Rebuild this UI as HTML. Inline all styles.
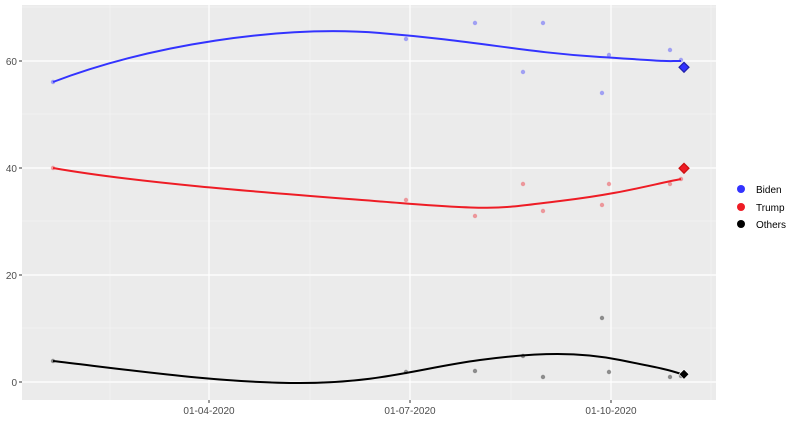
<!DOCTYPE html><html><head><style>body{margin:0;background:#fff}svg text{font-family:"Liberation Sans",sans-serif}</style></head><body>
<svg width="800" height="422" xmlns="http://www.w3.org/2000/svg">
<rect x="22" y="5" width="694" height="395" fill="#ebebeb"/>
<g stroke="#f5f5f5" stroke-width="0.6">
<line x1="22" x2="716" y1="328" y2="328"/><line x1="22" x2="716" y1="221" y2="221"/><line x1="22" x2="716" y1="114" y2="114"/><line x1="22" x2="716" y1="7" y2="7"/>
<line y1="5" y2="400" x1="110" x2="110"/><line y1="5" y2="400" x1="310" x2="310"/><line y1="5" y2="400" x1="511" x2="511"/><line y1="5" y2="400" x1="711" x2="711"/>
</g>
<g stroke="#fff" stroke-width="1.2">
<line x1="22" x2="716" y1="382" y2="382"/><line x1="22" x2="716" y1="275" y2="275"/><line x1="22" x2="716" y1="168" y2="168"/><line x1="22" x2="716" y1="61" y2="61"/>
<line y1="5" y2="400" x1="209" x2="209"/><line y1="5" y2="400" x1="410" x2="410"/><line y1="5" y2="400" x1="611" x2="611"/>
</g>
<g stroke="#333" stroke-width="1"><line x1="19" x2="22" y1="382" y2="382"/><line x1="19" x2="22" y1="275" y2="275"/><line x1="19" x2="22" y1="168" y2="168"/><line x1="19" x2="22" y1="61" y2="61"/>
<line y1="400" y2="403" x1="209" x2="209"/><line y1="400" y2="403" x1="410" x2="410"/><line y1="400" y2="403" x1="611" x2="611"/></g>
<g font-size="10" fill="#4d4d4d" text-anchor="end"><text x="17" y="386">0</text><text x="17" y="279">20</text><text x="17" y="172">40</text><text x="17" y="65">60</text></g>
<g font-size="10" fill="#4d4d4d" text-anchor="middle"><text x="209" y="414">01-04-2020</text><text x="410" y="414">01-07-2020</text><text x="611" y="414">01-10-2020</text></g>
<g fill="#3333ff" opacity="0.4"><circle cx="53" cy="82" r="2.2"/><circle cx="406" cy="39" r="2.2"/><circle cx="475" cy="23" r="2.2"/><circle cx="523" cy="72" r="2.2"/><circle cx="543" cy="23" r="2.2"/><circle cx="602" cy="93" r="2.2"/><circle cx="609" cy="55" r="2.2"/><circle cx="670" cy="50" r="2.2"/><circle cx="681" cy="60" r="2.2"/></g>
<g fill="#ee1c25" opacity="0.4"><circle cx="53" cy="168" r="2.2"/><circle cx="406" cy="200" r="2.2"/><circle cx="475" cy="216" r="2.2"/><circle cx="523" cy="184" r="2.2"/><circle cx="543" cy="211" r="2.2"/><circle cx="602" cy="205" r="2.2"/><circle cx="609" cy="184" r="2.2"/><circle cx="670" cy="184" r="2.2"/><circle cx="681" cy="179" r="2.2"/></g>
<g fill="#000" opacity="0.4"><circle cx="53" cy="361" r="2.2"/><circle cx="406" cy="372" r="2.2"/><circle cx="475" cy="371" r="2.2"/><circle cx="523" cy="356" r="2.2"/><circle cx="543" cy="377" r="2.2"/><circle cx="602" cy="318" r="2.2"/><circle cx="609" cy="372" r="2.2"/><circle cx="670" cy="377" r="2.2"/><circle cx="681" cy="376" r="2.2"/></g>
<g fill="none" stroke-width="2">
<path stroke="#3333ff" d="M53,82 C150,45 280,25 380,33 S520,52 600,57 S660,61 681,61"/>
<path stroke="#ee1c25" d="M53,168 C150,185 300,195 400,203 S500,208 560,201 S650,185 681,179"/>
<path stroke="#000" d="M53,361 C130,370 220,383 300,383 S420,368 480,360 S580,352 620,360 S670,370 681,374"/>
</g>
<g stroke-width="1.2"><rect x="680" y="64" width="7" height="7" transform="rotate(45 684 68)" fill="#3333ff" stroke="#2222aa"/>
<rect x="680" y="165" width="7" height="7" transform="rotate(45 684 169)" fill="#ee1c25" stroke="#cc1010"/>
<rect x="680" y="371" width="7" height="7" transform="rotate(45 684 375)" fill="#000" stroke="#fff" stroke-width="0.6"/></g>
<circle cx="741" cy="189" r="4" fill="#3333ff"/><circle cx="741" cy="207" r="4" fill="#ee1c25"/><circle cx="741" cy="224" r="4" fill="#000"/>
<g font-size="10" fill="#000"><text x="756" y="193">Biden</text><text x="756" y="211">Trump</text><text x="756" y="228">Others</text></g>
</svg></body></html>
